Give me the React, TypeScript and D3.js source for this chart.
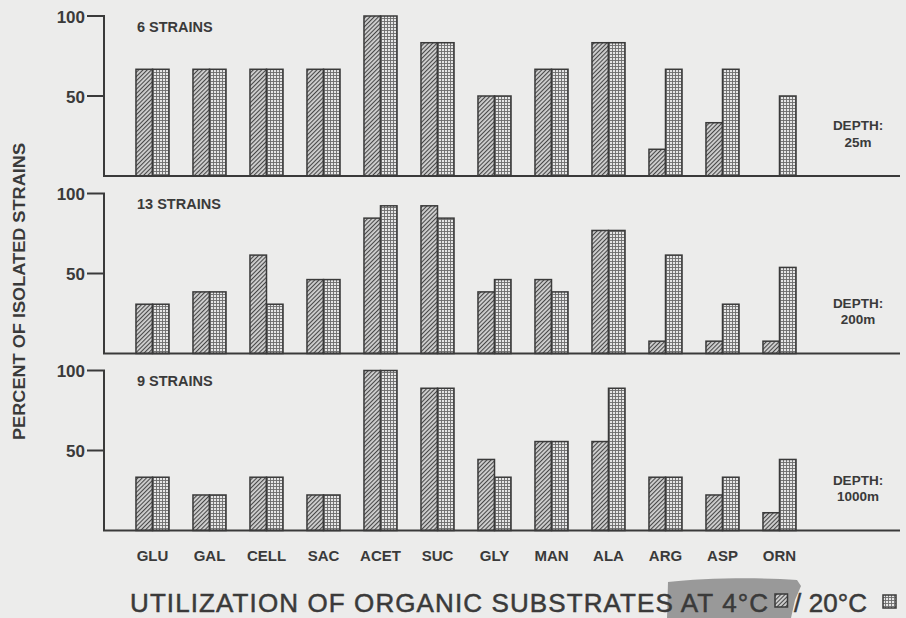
import React from 'react';
import * as d3 from 'd3';

// ---------- data ----------
const categories = ['GLU', 'GAL', 'CELL', 'SAC', 'ACET', 'SUC', 'GLY', 'MAN', 'ALA', 'ARG', 'ASP', 'ORN'];
const temps = ['4°C', '20°C'];

const depth25At4C = [66.7, 66.7, 66.7, 66.7, 100, 83.3, 50, 66.7, 83.3, 16.7, 33.3, 0];
const depth25At20C = [66.7, 66.7, 66.7, 66.7, 100, 83.3, 50, 66.7, 83.3, 66.7, 66.7, 50];
const depth200At4C = [30.8, 38.5, 61.5, 46.2, 84.6, 92.3, 38.5, 46.2, 76.9, 7.7, 7.7, 7.7];
const depth200At20C = [30.8, 38.5, 30.8, 46.2, 92.3, 84.6, 46.2, 38.5, 76.9, 61.5, 30.8, 53.8];
const depth1000At4C = [33.3, 22.2, 33.3, 22.2, 100, 88.9, 44.4, 55.6, 55.6, 33.3, 22.2, 11.1];
const depth1000At20C = [33.3, 22.2, 33.3, 22.2, 100, 88.9, 33.3, 55.6, 88.9, 33.3, 33.3, 44.4];

const strainLabels = ['6 STRAINS', '13 STRAINS', '9 STRAINS'];
const depthLabels = ['25m', '200m', '1000m'];
const yTicks = [50, 100];

const yAxisTitle = 'PERCENT OF ISOLATED STRAINS';
const titleMain = 'UTILIZATION OF ORGANIC SUBSTRATES AT 4°C';
const titleSecond = '/ 20°C';

// ---------- layout ----------
const W = 906;
const H = 618;
const panelBases = [176, 353.5, 530.5];
const panelHeight = 160;
const axisX = 104;
const axisRight = 900;
const INK = '#3a3a3a';
const FONT = '"Liberation Sans", Arial, Helvetica, sans-serif';

const panels = [
  { s4: depth25At4C, s20: depth25At20C },
  { s4: depth200At4C, s20: depth200At20C },
  { s4: depth1000At4C, s20: depth1000At20C },
];

export default function App() {
  const x0 = d3.scaleBand<string>().domain(categories).range([124, 808]).paddingInner(0.42).paddingOuter(0.21);
  const x1 = d3.scaleBand<string>().domain(temps).range([0, x0.bandwidth()]).padding(0);
  const fills = ['url(#hatch)', 'url(#grid)'];

  return (
    <svg width={W} height={H} style={{ position: 'absolute', left: 0, top: 0, display: 'block' }}>
      <defs>
        <pattern id="hatch" width="3" height="3" patternUnits="userSpaceOnUse" patternTransform="rotate(45)">
          <rect width="3" height="3" fill="#d0d0d0" />
          <line x1="0.5" y1="0" x2="0.5" y2="3" stroke="#474747" strokeWidth="1.15" />
        </pattern>
        <pattern id="grid" width="3" height="3" patternUnits="userSpaceOnUse">
          <rect width="3" height="3" fill="#e6e6e6" />
          <path d="M0 0.5H3M0.5 0V3" stroke="#6c6c6c" strokeWidth="0.9" />
        </pattern>
      </defs>
      <rect width={W} height={H} fill="#ececeb" />

      {panels.map((p, pi) => {
        const base = panelBases[pi];
        const y = d3.scaleLinear().domain([0, 100]).range([base, base - panelHeight]);
        const series = [p.s4, p.s20];
        return (
          <g key={pi}>
            {categories.map((c, ci) =>
              temps.map((t, ti) => {
                const v = series[ti][ci];
                if (!v) return null;
                return (
                  <rect
                    key={c + t}
                    x={(x0(c) as number) + (x1(t) as number)}
                    y={y(v)}
                    width={x1.bandwidth()}
                    height={y(0) - y(v)}
                    fill={fills[ti]}
                    stroke={INK}
                    strokeWidth={1.5}
                  />
                );
              })
            )}
            <line x1={axisX} x2={axisX} y1={y(100)} y2={y(0)} stroke={INK} strokeWidth={2} />
            <line x1={axisX - 1} x2={axisRight} y1={y(0)} y2={y(0)} stroke={INK} strokeWidth={2} />
            {yTicks.map((tk) => (
              <g key={tk}>
                <line x1={87} x2={axisX + 1} y1={y(tk)} y2={y(tk)} stroke={INK} strokeWidth={2} />
                <text x={85} y={y(tk) + 6.5} textAnchor="end" fontFamily={FONT} fontWeight="bold" fontSize={17} fill={INK}>
                  {tk}
                </text>
              </g>
            ))}
            <text x={137} y={y(100) + 15.5} fontFamily={FONT} fontWeight="bold" fontSize={14.5} fill={INK}>
              {strainLabels[pi]}
            </text>
            <text x={858} y={base - 46} textAnchor="middle" fontFamily={FONT} fontWeight="bold" fontSize={13.5} fill={INK}>
              DEPTH:
            </text>
            <text x={858} y={base - 29.5} textAnchor="middle" fontFamily={FONT} fontWeight="bold" fontSize={13.5} fill={INK}>
              {depthLabels[pi]}
            </text>
          </g>
        );
      })}

      {categories.map((c) => (
        <text
          key={c}
          x={(x0(c) as number) + x0.bandwidth() / 2}
          y={561}
          textAnchor="middle"
          fontFamily={FONT}
          fontWeight="bold"
          fontSize={15}
          fill={INK}
        >
          {c}
        </text>
      ))}

      <text
        transform="translate(25,291.5) rotate(-90)"
        textAnchor="middle"
        fontFamily={FONT}
        fontWeight="bold"
        fontSize={16.5}
        fill={INK}
        textLength={297}
        lengthAdjust="spacingAndGlyphs"
      >
        {yAxisTitle}
      </text>

      <path
        d="M668 582 C 700 578, 760 577, 797 580 L 801 586 L 795 600 L 791 618 L 667 618 Z"
        fill="#8b8b8b"
        opacity={0.85}
      />

      <text x={130} y={612} fontFamily={FONT} fontSize={26} fill={INK} stroke={INK} strokeWidth={0.5} textLength={638} lengthAdjust="spacing">
        {titleMain}
      </text>
      <rect x={775} y={594} width={12.5} height={13} fill="url(#hatch)" stroke={INK} strokeWidth={1.5} />
      <text x={794} y={612} fontFamily={FONT} fontSize={26} fill={INK} stroke={INK} strokeWidth={0.5} textLength={73} lengthAdjust="spacing">
        {titleSecond}
      </text>
      <rect x={883} y={595} width={13} height={13} fill="url(#grid)" stroke={INK} strokeWidth={1.5} />
    </svg>
  );
}
